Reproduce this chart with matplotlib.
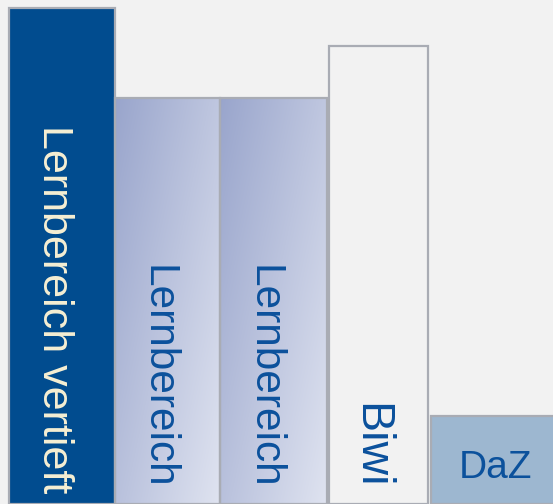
import matplotlib.pyplot as plt
import numpy as np
from matplotlib.colors import to_rgb

# bar heights, read in pixel units from the bottom edge of the picture
labels = ["Lernbereich vertieft", "Lernbereich", "Lernbereich", "Biwi", "DaZ"]
heights = [496, 406, 406, 458.5, 88]

# layout (pixels)
lefts = [8.5, 115, 220, 329, 431]
widths = [106.5, 105, 107, 98.5, 125]
text_pos = [(43, 379), (147, 239), (253, 239), (358, 101), (459, 26)]
rotations = [-90, -90, -90, -90, 0]
font_sizes = [31, 30.5, 30.5, 33.5, 28]

bg = "#f2f2f2"
edge = "#a9acb4"
dark_blue = "#014c8f"
text_blue = "#0b519c"
cream = "#f6efd3"
daz_blue = "#9db7d0"

fig = plt.figure(figsize=(5.53, 5.04), dpi=100, facecolor=bg)
ax = fig.add_axes([0, 0, 1, 1])
ax.set_facecolor(bg)
ax.axis("off")

faces = [dark_blue, "none", "none", bg, daz_blue]
bars = ax.bar(lefts, heights, width=widths, align="edge", color=faces,
              edgecolor=edge, linewidth=1.6, zorder=2)

# diagonal gradient for the two "Lernbereich" bars (dark top-left, light bottom-right)
c0 = np.array(to_rgb("#99a5cc"))
c1 = np.array(to_rgb("#dfe3f0"))
for i in (1, 2):
    x0, w, h = lefts[i], widths[i], heights[i]
    u = np.linspace(0, 1, 120)[None, :]
    v = np.linspace(0, 1, 200)[:, None]
    t = np.clip(0.55 * u + 0.45 * v, 0, 1)
    img = c0 + (c1 - c0) * t[..., None]
    im = ax.imshow(img, extent=(x0, x0 + w, 0, h), origin="upper",
                   aspect="auto", zorder=1, interpolation="bilinear")
    im.set_clip_path(bars[i])

ax.set_xlim(0, 553)
ax.set_ylim(0, 504)

colors = [cream, text_blue, text_blue, text_blue, text_blue]
for lab, (x, y), rot, fs, col in zip(labels, text_pos, rotations, font_sizes, colors):
    ax.text(x, y, lab, rotation=rot, rotation_mode="anchor", ha="left",
            va="baseline", fontsize=fs, color=col,
            family=["Liberation Sans", "DejaVu Sans"], zorder=3)

fig.savefig("out.png", dpi=100, facecolor=bg)
